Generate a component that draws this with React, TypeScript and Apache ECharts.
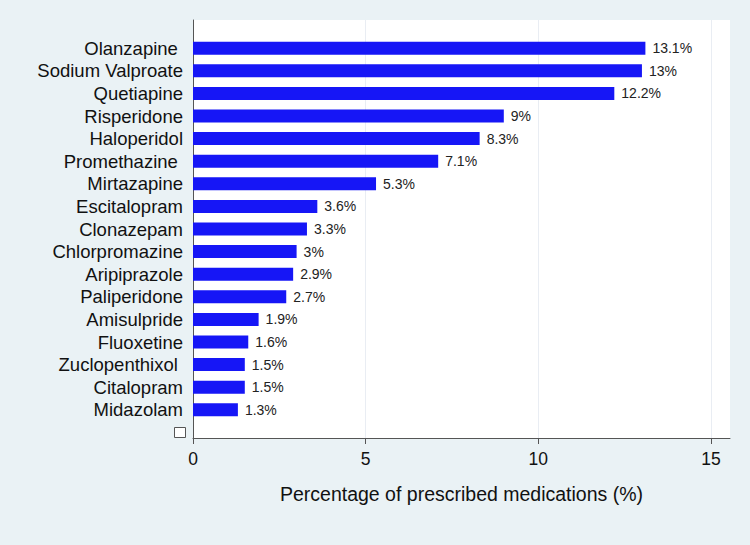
import React, { useEffect, useRef } from "react";
import * as echarts from "echarts";

// Medications, top to bottom (non-breaking spaces keep the trailing gap on some labels)
const medications = [
  "Olanzapine\u00a0",
  "Sodium Valproate",
  "Quetiapine",
  "Risperidone",
  "Haloperidol",
  "Promethazine\u00a0",
  "Mirtazapine",
  "Escitalopram",
  "Clonazepam",
  "Chlorpromazine",
  "Aripiprazole",
  "Paliperidone",
  "Amisulpride",
  "Fluoxetine",
  "Zuclopenthixol\u00a0",
  "Citalopram",
  "Midazolam",
];

// Share of all prescribed medications, in percent
const percentages = [13.1, 13, 12.2, 9, 8.3, 7.1, 5.3, 3.6, 3.3, 3, 2.9, 2.7, 1.9, 1.6, 1.5, 1.5, 1.3];

const xTicks = [0, 5, 10, 15];
const xTitle = "Percentage of prescribed medications (%)";

const FONT = "'Liberation Sans', Arial, sans-serif";

export default function App() {
  const ref = useRef<HTMLDivElement>(null);

  useEffect(() => {
    document.body.style.margin = "0";
    if (!ref.current) return;
    const chart = echarts.init(ref.current, undefined, { renderer: "svg" });

    const plotLeft = 193;
    const plotTop = 20;
    const plotWidth = 537;
    const plotHeight = 418;
    const xMax = 15.55;
    const band = 22.6;
    const pad = (plotHeight - band * medications.length) / 2;

    chart.setOption({
      animation: false,
      backgroundColor: "#eaf2f5",
      textStyle: { fontFamily: FONT },
      grid: [
        {
          left: plotLeft,
          top: plotTop,
          width: plotWidth,
          height: plotHeight,
          show: true,
          backgroundColor: "#ffffff",
          borderWidth: 0,
        },
        {
          left: plotLeft,
          top: plotTop + pad,
          width: plotWidth,
          height: band * medications.length,
        },
      ],
      xAxis: [
        {
          gridIndex: 0,
          type: "value",
          min: 0,
          max: xMax,
          interval: 5,
          axisLine: { show: true, onZero: false, lineStyle: { color: "#555", width: 1 } },
          axisTick: { show: true, length: 6, customValues: xTicks, lineStyle: { color: "#555" } },
          axisLabel: {
            margin: 12,
            fontSize: 17.5,
            color: "#111",
            fontFamily: FONT,
            customValues: xTicks,
          },
          splitLine: { show: true, lineStyle: { color: "#e9edf3", width: 1 } },
          name: xTitle,
          nameLocation: "middle",
          nameGap: 46,
          nameTextStyle: { fontSize: 19.5, color: "#111", fontFamily: FONT, verticalAlign: "top" },
        },
        {
          gridIndex: 1,
          type: "value",
          min: 0,
          max: xMax,
          show: false,
        },
      ],
      yAxis: [
        {
          gridIndex: 0,
          type: "value",
          min: 0,
          max: 1,
          axisLine: { show: true, onZero: false, lineStyle: { color: "#555", width: 1 } },
          axisTick: { show: false },
          axisLabel: { show: false },
          splitLine: { show: false },
        },
        {
          gridIndex: 1,
          type: "category",
          inverse: true,
          data: medications,
          axisLine: { show: false },
          axisTick: { show: false },
          splitLine: { show: false },
          axisLabel: {
            margin: 10,
            fontSize: 18.5,
            color: "#111",
            fontFamily: FONT,
            interval: 0,
          },
        },
      ],
      series: [
        {
          type: "bar",
          xAxisIndex: 1,
          yAxisIndex: 1,
          data: percentages,
          barWidth: 13,
          itemStyle: { color: "#1616f6" },
          label: {
            show: true,
            position: "right",
            distance: 7,
            fontSize: 14,
            color: "#222",
            fontFamily: FONT,
            formatter: (p: any) => `${p.value}%`,
          },
        },
      ],
      graphic: [
        {
          type: "rect",
          shape: { x: 174.5, y: 427.5, width: 11, height: 10 },
          style: { fill: "#ffffff", stroke: "#555", lineWidth: 1 },
        },
      ],
    });

    return () => chart.dispose();
  }, []);

  return <div ref={ref} style={{ width: 750, height: 545 }} />;
}
